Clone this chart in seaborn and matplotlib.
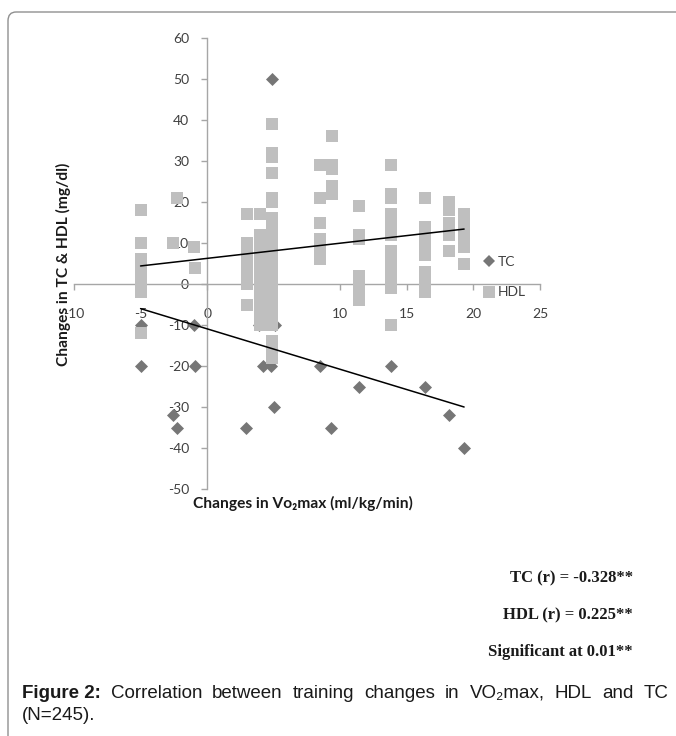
import matplotlib
matplotlib.use("Agg")
import matplotlib.pyplot as plt
import seaborn as sns
import pandas as pd
from matplotlib.patches import FancyBboxPatch
from matplotlib.lines import Line2D

# ---------------- data ----------------
tc_x = [4.9, -5.0, -5.0, -1.0, -0.9, -2.6, -2.3, 2.9, 3.9, 5.1, 4.2, 4.8, 5.0,
        8.5, 9.3, 11.4, 13.8, 16.4, 18.2, 19.3]
tc_y = [50, -10, -20, -10, -20, -32, -35, -35, -10, -10, -20, -20, -30,
        -20, -35, -25, -20, -25, -32, -40]

hdl_x = ([-5.0] * 8 + [-2.3, -2.6, -1.0, -0.9] + [3.0] * 8 + [4.0] * 12
         + [4.9] * 23 + [8.5] * 7 + [9.4] * 5 + [11.4] * 7 + [13.8] * 14
         + [16.4] * 8 + [18.2] * 6 + [19.3] * 5)
hdl_y = ([18, 10, 6, 4, 2, 0, -2, -12]
         + [21, 10, 9, 4]
         + [17, 10, 8, 6, 4, 2, 0, -5]
         + [17, 12, 9, 7, 5, 3, 1, -1, -3, -5, -7, -10]
         + [39, 32, 31, 27, 21, 20, 16, 15, 13, 11, 9, 7, 5, 3, 1, -1, -3, -5, -7, -10, -14, -16, -18]
         + [29, 21, 15, 11, 9, 7, 6]
         + [36, 29, 28, 24, 22]
         + [19, 12, 11, 2, 0, -2, -4]
         + [29, 22, 21, 17, 15, 13, 12, 8, 6, 4, 2, 0, -1, -10]
         + [21, 14, 11, 9, 7, 3, 1, -2]
         + [20, 18, 15, 14, 12, 8]
         + [17, 15, 12, 9, 5])

trend_x = [-5.0, 19.3]
tc_trend = [-6.0, -30.0]
hdl_trend = [4.4, 13.4]

x_ticks = [-10, -5, 0, 5, 10, 15, 20, 25]
y_ticks = [-50, -40, -30, -20, -10, 0, 10, 20, 30, 40, 50, 60]
series_names = ["TC", "HDL"]
stats_lines = ["TC (r) = -0.328**", "HDL (r) = 0.225**", "Significant at 0.01**"]
caption_bold = "Figure 2:"
caption_words = ["Correlation", "between", "training", "changes", "in",
                 "VO\u2082max,", "HDL", "and", "TC"]
caption_line2 = "(N=245)."

# ---------------- style ----------------
sns.set_theme(style="ticks")
plt.rcParams["font.family"] = ["Lato", "DejaVu Sans"]

TC_COL = "#767676"
HDL_COL = "#bfbfbf"
AX_COL = "#a6a6a6"
TXT_COL = "#404040"

W, H = 676, 736
fig = plt.figure(figsize=(W / 100, H / 100), dpi=100)
fig.patch.set_facecolor("white")
ax = fig.add_axes([74 / W, 1 - 489 / H, 466 / W, 451 / H])

df_tc = pd.DataFrame({"x": tc_x, "y": tc_y})
df_hdl = pd.DataFrame({"x": hdl_x, "y": hdl_y})

sns.scatterplot(data=df_tc, x="x", y="y", marker="D", s=44, color=TC_COL,
                linewidth=0, ax=ax, zorder=3, legend=False)
sns.scatterplot(data=df_hdl, x="x", y="y", marker="s", s=81, color=HDL_COL,
                linewidth=0, ax=ax, zorder=4, legend=False)
sns.lineplot(x=trend_x, y=hdl_trend, color="black", lw=1.1, ax=ax, zorder=5)
sns.lineplot(x=trend_x, y=tc_trend, color="black", lw=1.1, ax=ax, zorder=5)

ax.set_xlim(-10, 25)
ax.set_ylim(-50, 60)
ax.set_xticks(x_ticks)
ax.set_xticklabels([str(t) for t in x_ticks])
ax.set_yticks(y_ticks)
ax.set_yticklabels([str(t) for t in y_ticks])
ax.set_xlabel("")
ax.set_ylabel("")

for side in ("top", "right"):
    ax.spines[side].set_visible(False)
ax.spines["left"].set_position(("data", 0))
ax.spines["bottom"].set_position(("data", 0))
for side in ("left", "bottom"):
    ax.spines[side].set_color(AX_COL)
    ax.spines[side].set_linewidth(1.0)
    ax.spines[side].set_zorder(1)
ax.tick_params(axis="x", direction="out", length=4, width=1, color=AX_COL,
               pad=13, labelsize=10, labelcolor=TXT_COL)
ax.tick_params(axis="y", direction="out", length=4, width=1, color=AX_COL,
               pad=9, labelsize=10, labelcolor=TXT_COL)
ax.set_facecolor("none")

# axis titles
fig.text(63 / W, 1 - 264 / H, "Changes in TC & HDL (mg/dl)", rotation=90,
         ha="center", va="center", fontsize=11.2, fontweight="bold", color="#1a1a1a")
fig.text(193 / W, 1 - 503 / H, "Changes in Vo\u2082max (ml/kg/min)",
         ha="left", va="center", fontsize=11.2, fontweight="bold", color="#1a1a1a")

# legend
handles = [Line2D([], [], marker="D", ls="", color=TC_COL, ms=6, mew=0),
           Line2D([], [], marker="s", ls="", color=HDL_COL, ms=9, mew=0)]
leg = fig.legend(handles, series_names, loc="center left",
                 bbox_to_anchor=(482 / W, 1 - 277 / H), frameon=False,
                 handletextpad=0.15, handlelength=1.0, labelspacing=1.35,
                 fontsize=10, borderpad=0, borderaxespad=0)
for t in leg.get_texts():
    t.set_color(TXT_COL)

# statistics text
for i, s in enumerate(stats_lines):
    fig.text(633 / W, 1 - (578 + 37 * i) / H, s, ha="right", va="center",
             fontsize=12, fontweight="bold", family="Liberation Serif", color="#1a1a1a")

# caption (justified first line)
cap_font = dict(fontsize=13.5, family=["Liberation Sans", "DejaVu Sans"], color="#1a1a1a")
fig.canvas.draw()
renderer = fig.canvas.get_renderer()
left_px, right_px, y1 = 22, 668, 693
t0 = fig.text(left_px / W, 1 - y1 / H, caption_bold, ha="left", va="center",
              fontweight="bold", **cap_font)
w0 = t0.get_window_extent(renderer).width
word_texts = [fig.text(0, 1 - y1 / H, w, ha="left", va="center", **cap_font)
              for w in caption_words]
widths = [t.get_window_extent(renderer).width for t in word_texts]
total = w0 + sum(widths)
gap = (right_px - left_px - total) / len(caption_words)
xpos = left_px + w0 + gap
for t, w in zip(word_texts, widths):
    t.set_x(xpos / W)
    xpos += w + gap
fig.text(left_px / W, 1 - 716 / H, caption_line2, ha="left", va="center", **cap_font)

# rounded frame
frame = FancyBboxPatch((8 / W, -0.05), 1.2, 1 - 12 / H + 0.05,
                       boxstyle="round,pad=0,rounding_size=0.012",
                       transform=fig.transFigure, fill=False,
                       ec="#8f8f8f", lw=1.0, zorder=0)
fig.patches.append(frame)

fig.savefig("out.png", dpi=100, facecolor="white")
